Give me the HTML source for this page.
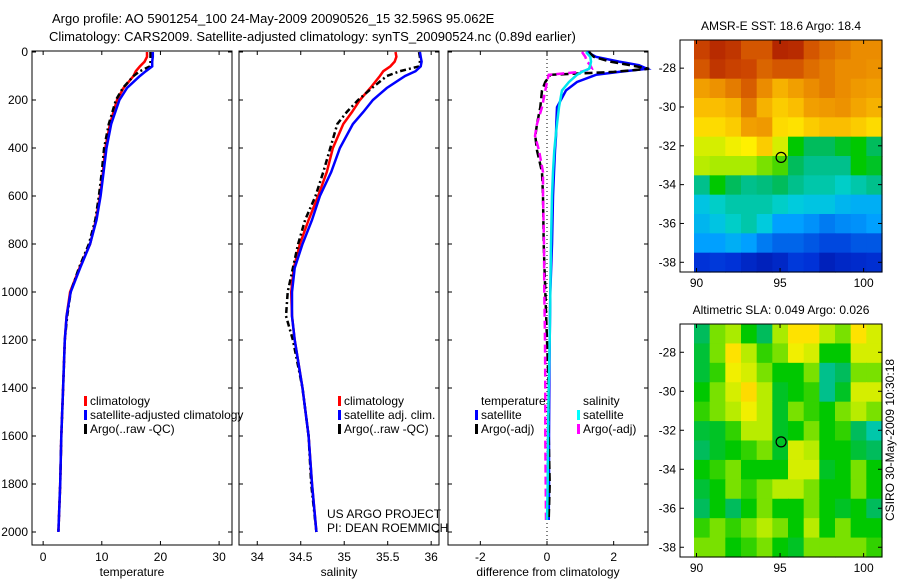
<!DOCTYPE html>
<html><head><meta charset="utf-8">
<style>
html,body{margin:0;padding:0;background:#fff;}
svg{display:block;font-family:"Liberation Sans",sans-serif;}
text{font-size:12px;fill:#000;}
</style></head>
<body>
<svg id="fig" width="900" height="580" viewBox="0 0 900 580" xmlns="http://www.w3.org/2000/svg">
<text x="52" y="23" style="font-size:13px">Argo profile: AO 5901254_100 24-May-2009 20090526_15 32.596S 95.062E</text>
<text x="49" y="41" style="font-size:13px">Climatology: CARS2009. Satellite-adjusted climatology: synTS_20090524.nc (0.89d earlier)</text>
<g id="p1"></g>
<g id="p2"></g>
<g id="p3"></g>
<g id="m1"></g>
<g id="m2"></g>
<text transform="translate(894,440) rotate(-90)" text-anchor="middle">CSIRO 30-May-2009 10:30:18</text>
</svg>
<script>
// ---- data ----
const tDepth=[0,20,40,60,80,100,150,200,250,300,400,500,600,700,800,900,1000,1100,1200,1400,1600,1800,2000];
const tClim=[17.7,17.7,17.3,16.5,15.8,15.4,13.7,12.6,12.0,11.4,10.6,10.2,9.7,9.0,8.0,6.2,4.6,4.0,3.7,3.4,3.1,2.9,2.6];
const tSat=[18.7,18.7,18.6,18.6,17.5,16.5,14.3,13.0,12.3,11.6,10.8,10.3,9.8,9.1,8.0,6.3,4.7,4.0,3.7,3.4,3.1,2.9,2.6];
const tArgo=[18.3,18.3,18.3,18.2,16.5,15.4,13.6,12.4,11.8,11.2,10.4,10.0,9.5,8.9,7.8,6.1,4.7,4.1,3.7,3.4,3.1,2.9,2.6];
const sDepth=[0,20,40,60,80,100,150,200,250,300,400,500,600,700,800,900,1000,1100,1200,1400,1600,1800,2000];
const sClim=[35.59,35.6,35.58,35.53,35.45,35.41,35.30,35.18,35.09,34.99,34.87,34.80,34.70,34.59,34.49,34.42,34.39,34.40,34.43,34.52,34.59,34.63,34.68];
const sSat=[35.87,35.88,35.89,35.88,35.82,35.70,35.49,35.33,35.22,35.10,34.95,34.85,34.72,34.63,34.52,34.43,34.40,34.40,34.43,34.52,34.59,34.63,34.68];
const sArgo=[35.86,35.87,35.87,35.86,35.64,35.49,35.32,35.16,35.03,34.92,34.84,34.76,34.67,34.55,34.47,34.41,34.35,34.33,34.41,34.52,34.59,34.62,34.68];
const dDepth=[0,20,40,55,70,83,95,125,160,230,300,350,410,500,600,800,1000,1200,1400,1600,1800,1950];
const dTsat=[1.2,1.47,2.16,2.76,3.0,2.16,1.47,0.9,0.57,0.3,0.28,0.27,0.24,0.21,0.18,0.15,0.1,0.08,0.07,0.06,0.06,0.05];
const dTargo=[1.26,1.4,1.9,2.5,3.06,2.0,0.1,-0.05,-0.15,-0.2,-0.3,-0.35,-0.3,-0.15,-0.12,-0.1,-0.05,0,0.05,0.05,0.08,0.05];
const dSsat=[1.17,1.3,1.32,1.3,1.26,1.05,0.9,0.66,0.45,0.36,0.3,0.26,0.22,0.18,0.15,0.12,0.1,0.08,0.05,0.03,0.02,0];
const dSargo=[1.05,1.15,1.2,1.3,1.35,1.0,0.05,0,-0.05,-0.15,-0.3,-0.36,-0.24,-0.12,-0.12,-0.09,-0.08,-0.06,-0.05,-0.05,-0.04,-0.03];
const depthTicks=[0,200,400,600,800,1000,1200,1400,1600,1800,2000];
const tTicks=[0,10,20,30];
const sTicks=[34,34.5,35,35.5,36];
const dTicks=[-2,0,2];
const latTicks=[28,30,32,34,36,38];
const lonTicks=[90,95,100];
const sstGrid=[
[0.88,0.92,0.9,0.85,0.85,0.93,0.92,0.85,0.82,0.8,0.78,0.78],
[0.85,0.9,0.88,0.87,0.83,0.85,0.85,0.82,0.8,0.78,0.78,0.77],
[0.75,0.77,0.8,0.84,0.78,0.72,0.75,0.78,0.8,0.78,0.76,0.75],
[0.7,0.7,0.72,0.8,0.72,0.68,0.7,0.75,0.76,0.77,0.74,0.72],
[0.66,0.66,0.68,0.75,0.76,0.66,0.65,0.68,0.7,0.7,0.68,0.66],
[0.6,0.6,0.62,0.63,0.68,0.6,0.5,0.45,0.45,0.48,0.5,0.45],
[0.58,0.57,0.57,0.57,0.55,0.53,0.45,0.42,0.42,0.42,0.5,0.48],
[0.42,0.5,0.45,0.42,0.43,0.45,0.42,0.4,0.4,0.38,0.4,0.42],
[0.35,0.38,0.4,0.4,0.4,0.38,0.36,0.35,0.35,0.33,0.32,0.32],
[0.33,0.35,0.38,0.4,0.36,0.3,0.3,0.28,0.25,0.27,0.28,0.3],
[0.3,0.3,0.32,0.3,0.25,0.22,0.22,0.2,0.18,0.18,0.2,0.2],
[0.15,0.16,0.15,0.12,0.1,0.12,0.16,0.15,0.1,0.12,0.13,0.14]];
const slaGrid=[
[0.45,0.55,0.57,0.5,0.45,0.57,0.65,0.65,0.58,0.55,0.65,0.6],
[0.47,0.55,0.65,0.58,0.52,0.55,0.62,0.6,0.5,0.5,0.6,0.6],
[0.47,0.52,0.62,0.6,0.55,0.5,0.5,0.55,0.42,0.45,0.55,0.55],
[0.5,0.55,0.6,0.66,0.58,0.48,0.5,0.52,0.42,0.48,0.6,0.6],
[0.52,0.55,0.58,0.62,0.58,0.48,0.55,0.52,0.5,0.55,0.58,0.55],
[0.47,0.48,0.52,0.58,0.58,0.48,0.5,0.55,0.5,0.52,0.45,0.4],
[0.45,0.48,0.5,0.52,0.55,0.48,0.6,0.58,0.5,0.5,0.47,0.45],
[0.5,0.52,0.55,0.5,0.5,0.5,0.6,0.6,0.48,0.5,0.55,0.5],
[0.47,0.5,0.55,0.52,0.55,0.58,0.58,0.55,0.5,0.5,0.55,0.5],
[0.45,0.5,0.45,0.5,0.55,0.5,0.5,0.55,0.5,0.48,0.5,0.45],
[0.52,0.55,0.52,0.55,0.58,0.55,0.5,0.58,0.5,0.55,0.5,0.5],
[0.55,0.55,0.5,0.52,0.55,0.5,0.48,0.55,0.55,0.55,0.55,0.52]];
const argoLon=95.062, argoLat=32.596;

const NS='http://www.w3.org/2000/svg';
function mk(p,tag,at){const e=document.createElementNS(NS,tag);for(const k in at)e.setAttribute(k,at[k]);p.appendChild(e);return e;}
const yTop=52, yPx=0.24;
function yD(d){return yTop+d*yPx;}
const BOT=545;

function panel(g,x0,x1,vmin,vmax,ticks,label,showDepth){
  const xs=v=>x0+(v-vmin)/(vmax-vmin)*(x1-x0);
  const box=mk(g,'rect',{x:x0,y:51,width:x1-x0,height:BOT-51,fill:'none',stroke:'#000','stroke-width':1});
  
  depthTicks.forEach(d=>{
    mk(g,'line',{x1:x0,x2:x0+4,y1:yD(d),y2:yD(d),stroke:'#000'});
    mk(g,'line',{x1:x1-4,x2:x1,y1:yD(d),y2:yD(d),stroke:'#000'});
    if(showDepth){const t=mk(g,'text',{x:x0-4,y:yD(d)+4,'text-anchor':'end'});t.textContent=d;
      }
  });
  ticks.forEach(v=>{
    const x=xs(v);
    mk(g,'line',{x1:x,x2:x,y1:BOT,y2:BOT-4,stroke:'#000'});
    mk(g,'line',{x1:x,x2:x,y1:51,y2:55,stroke:'#000'});
    const t=mk(g,'text',{x:x,y:561,'text-anchor':'middle'});t.textContent=v;
    
  });
  const xl=mk(g,'text',{x:(x0+x1)/2,y:576,'text-anchor':'middle'});xl.textContent=label;
  
  return xs;
}
function line(g,xs,depths,vals,color,dash,name,w){
  const pts=depths.map((d,i)=>xs(vals[i]).toFixed(1)+','+yD(d).toFixed(1)).join(' ');
  const pl=mk(g,'polyline',{points:pts,fill:'none',stroke:color,'stroke-width':w||2.5});
  if(dash)pl.setAttribute('stroke-dasharray',dash);
  
}
function legend(g,x,y,items){
  items.forEach((it,i)=>{
    const yy=y+i*14;
    mk(g,'rect',{x:x-6,y:yy-9,width:3,height:10,fill:it[1]});
    const t=mk(g,'text',{x:x,y:yy});t.textContent=it[0];
    
  });
}
const p1=document.getElementById('p1');
const xs1=panel(p1,32,232,-1.9,32.2,tTicks,'temperature',true);
line(p1,xs1,tDepth,tClim,'#ff0000',null,'temp-climatology-line');
line(p1,xs1,tDepth,tArgo,'#000','6,3,2,3','temp-argo-line');
line(p1,xs1,tDepth,tSat,'#0000ff',null,'temp-satellite-line');
legend(p1,90,405,[['climatology','#f00'],['satellite-adjusted climatology','#00f'],['Argo(..raw -QC)','#000']]);
const p2=document.getElementById('p2');
const xs2=panel(p2,239,439,33.79,36.09,sTicks,'salinity',false);
line(p2,xs2,sDepth,sClim,'#ff0000',null,'sal-climatology-line');
line(p2,xs2,sDepth,sArgo,'#000','6,3,2,3','sal-argo-line');
line(p2,xs2,sDepth,sSat,'#0000ff',null,'sal-satellite-line');
legend(p2,344,405,[['climatology','#f00'],['satellite adj. clim.','#00f'],['Argo(..raw -QC)','#000']]);
const pj=mk(p2,'text',{x:327,y:518});pj.textContent='US ARGO PROJECT';

const pi=mk(p2,'text',{x:327,y:532});pi.textContent='PI: DEAN ROEMMICH';

const p3=document.getElementById('p3');
const xs3=panel(p3,448,648,-2.97,3.03,dTicks,'difference from climatology',false);
mk(p3,'line',{x1:xs3(0),x2:xs3(0),y1:51,y2:BOT,stroke:'#000','stroke-dasharray':'1,3','stroke-width':1});
line(p3,xs3,dDepth,dTsat,'#0000ff',null,'diff-temp-satellite-line');
line(p3,xs3,dDepth,dTargo,'#000','8,4','diff-temp-argo-line');
line(p3,xs3,dDepth,dSargo,'#ff00ff','8,4','diff-sal-argo-line');
line(p3,xs3,dDepth,dSsat,'#00e5ee',null,'diff-sal-satellite-line');
legend(p3,481,405,[['temperature','none'],['satellite','#00f'],['Argo(-adj)','#000']]);
legend(p3,583,405,[['salinity','none'],['satellite','#0ff'],['Argo(-adj)','#f0f']]);

const cmapStops=[[0,[0,0,130]],[0.15,[0,50,215]],[0.3,[0,160,255]],[0.37,[0,210,215]],[0.44,[0,185,110]],[0.5,[0,200,0]],[0.57,[170,235,0]],[0.63,[255,240,0]],[0.7,[250,190,0]],[0.78,[235,140,0]],[0.87,[205,70,0]],[1,[150,0,0]]];
function cmap(v){
  for(let i=1;i<cmapStops.length;i++){
    if(v<=cmapStops[i][0]){const a=cmapStops[i-1],b=cmapStops[i];const f=(v-a[0])/(b[0]-a[0]);
      const c=a[1].map((x,k)=>Math.round(x+(b[1][k]-x)*f));return 'rgb('+c.join(',')+')';}
  }
  return 'rgb(150,0,0)';
}
function map(g,top,bottom,grid,title){
  const ax0=680, ix0=694, ix1=882, lon0=89.85, lon1=101.1, lat0=26.55, lat1=38.5;
  const xl=lo=>ix0+(lo-lon0)/(lon1-lon0)*(ix1-ix0);
  const yl=la=>top+(la-lat0)/(lat1-lat0)*(bottom-top);
  const tt=mk(g,'text',{x:781,y:top-10,'text-anchor':'middle'});tt.textContent=title;
  
  const rows=grid.length, cols=grid[0].length;
  const cw=(ix1-ix0)/cols, ch=(bottom-top)/rows;
  grid.forEach((row,r)=>row.forEach((v,c)=>{
    const cell=mk(g,'rect',{x:(ix0+c*cw).toFixed(2),y:(top+r*ch).toFixed(2),width:(cw+0.6).toFixed(2),height:(ch+0.6).toFixed(2),fill:cmap(v)});
    
  }));
  mk(g,'rect',{x:ax0,y:top,width:ix1-ax0,height:bottom-top,fill:'none',stroke:'#000'});
  latTicks.forEach(la=>{const y=yl(la);
    mk(g,'line',{x1:ax0,x2:ax0+4,y1:y,y2:y,stroke:'#000'});
    mk(g,'line',{x1:ix1-4,x2:ix1,y1:y,y2:y,stroke:'#000'});
    const t=mk(g,'text',{x:ax0-4,y:y+4,'text-anchor':'end'});t.textContent='-'+la;
    });
  lonTicks.forEach(lo=>{const x=xl(lo);
    mk(g,'line',{x1:x,x2:x,y1:bottom,y2:bottom-4,stroke:'#000'});
    mk(g,'line',{x1:x,x2:x,y1:top,y2:top+4,stroke:'#000'});
    const t=mk(g,'text',{x:x,y:bottom+15,'text-anchor':'middle'});t.textContent=lo;
    });
  const c=mk(g,'circle',{cx:xl(argoLon),cy:yl(argoLat),r:5,fill:'none',stroke:'#000','stroke-width':1.2});
  
}
map(document.getElementById('m1'),40,272,sstGrid,'AMSR-E SST: 18.6 Argo: 18.4');
map(document.getElementById('m2'),324,557,slaGrid,'Altimetric SLA: 0.049 Argo: 0.026');
</script>
</body></html>
